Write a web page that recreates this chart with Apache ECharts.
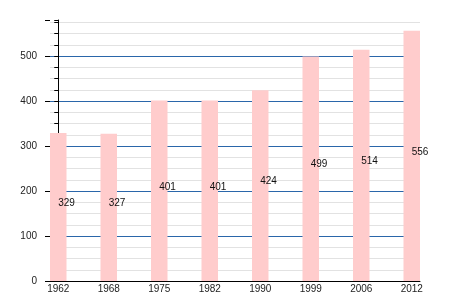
<!DOCTYPE html>
<html>
<head>
<meta charset="utf-8">
<script src="https://cdn.jsdelivr.net/npm/echarts@6/dist/echarts.min.js"></script>
<style>
html,body{margin:0;padding:0;background:#fff;}
#c{width:450px;height:300px;}
</style>
</head>
<body>
<div id="c"></div>
<script>
var years = ['1962', '1968', '1975', '1982', '1990', '1999', '2006', '2012'];
var values = [329, 327, 401, 401, 424, 499, 514, 556];
var yTickLabels = [0, 100, 200, 300, 400, 500];

var chart = echarts.init(document.getElementById('c'), null, {renderer: 'canvas'});
var pad = 0.1634;
var barData = values.map(function (v, i) { return [i, v]; });
var font = '"Liberation Sans", Arial, sans-serif';

chart.setOption({
  animation: false,
  backgroundColor: '#ffffff',
  grid: {left: 50, right: 30, top: 20, bottom: 19, containLabel: false},
  xAxis: {
    type: 'value',
    min: -pad,
    max: years.length - 1 + pad,
    axisLine: {show: true, lineStyle: {color: '#000', width: 1}},
    axisTick: {show: false},
    splitLine: {show: false},
    axisLabel: {
      customValues: years.map(function (y, i) { return i; }),
      formatter: function (v) { return years[Math.round(v)]; },
      color: '#222', fontSize: 10, fontFamily: font, margin: 3
    }
  },
  yAxis: [{
    type: 'value',
    min: 0,
    max: 580,
    interval: 25,
    axisLine: {show: true, lineStyle: {color: '#000', width: 1}},
    axisTick: {show: true, length: 4, lineStyle: {color: '#000'}},
    axisLabel: {
      color: '#222', fontSize: 10, fontFamily: font, margin: 13,
      formatter: function (v) { return yTickLabels.indexOf(v) >= 0 ? String(v) : ''; }
    },
    splitLine: {
      show: true,
      showMaxLine: false,
      lineStyle: {color: '#e2e2e2', width: 1}
    }
  }, {
    type: 'value',
    position: 'left',
    offset: 0,
    min: 0,
    max: 580,
    interval: 100,
    axisLine: {show: false},
    axisTick: {show: true, length: 5, lineStyle: {color: '#000'}},
    axisLabel: {show: false},
    splitLine: {
      show: true,
      showMaxLine: false,
      lineStyle: {color: '#2a66aa', width: 1}
    }
  }],
  series: [{
    type: 'bar',
    data: barData,
    barWidth: 16.5,
    itemStyle: {color: '#ffcccc'},
    label: {
      show: true,
      position: 'inside',
      align: 'left',
      offset: [0, -4],
      color: '#111',
      fontSize: 10,
      fontFamily: font,
      formatter: function (p) { return String(p.value[1]); }
    }
  }]
});
</script>
</body>
</html>
